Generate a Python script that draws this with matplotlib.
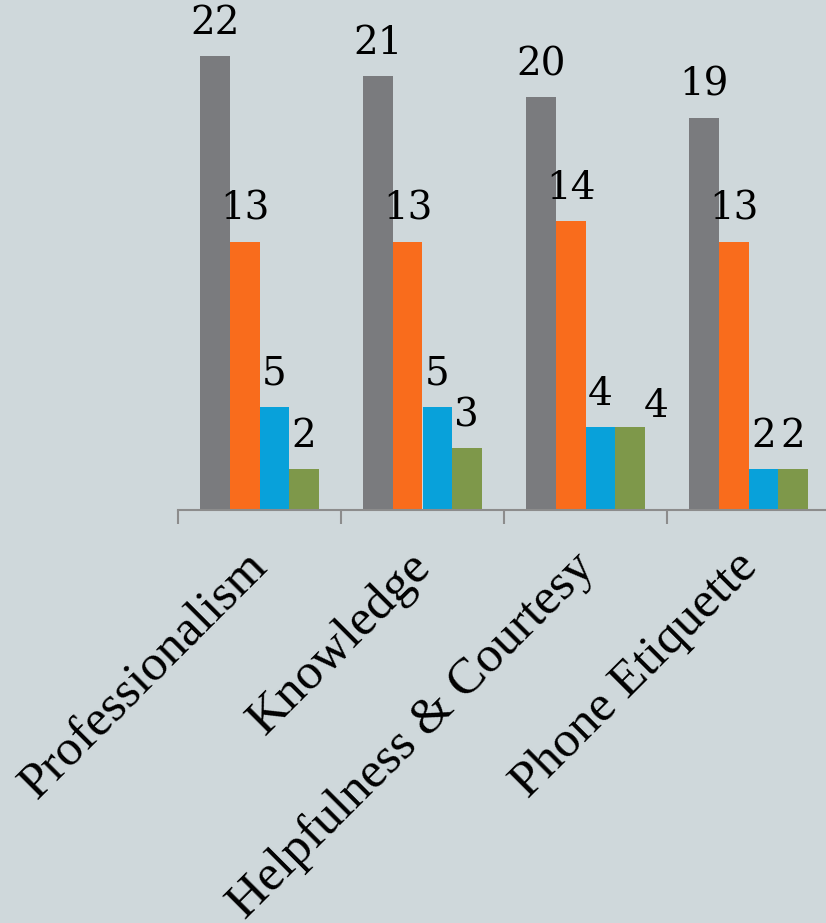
import numpy as np
import matplotlib.pyplot as plt
from matplotlib.transforms import ScaledTranslation

# survey scores per category, one series per rating level
categories = ["Professionalism", "Knowledge", "Helpfulness & Courtesy", "Phone Etiquette"]
series_a = [22, 21, 20, 19]
series_b = [13, 13, 14, 13]
series_c = [5, 5, 4, 2]
series_d = [2, 3, 4, 2]

colors = ["#7a7b7e", "#f96c1c", "#08a1da", "#7e984a"]
bg = "#cfd8db"

plt.rcParams['font.family'] = ['Liberation Serif', 'DejaVu Serif']

fig = plt.figure(figsize=(8.26, 9.23), dpi=100, facecolor=bg)
ax = fig.add_axes([178/826, 413/923, 652/826, 510/923])
ax.set_facecolor(bg)

x = np.arange(len(categories))
w = 0.181
all_series = [series_a, series_b, series_c, series_d]
for j, vals in enumerate(all_series):
    pos = x + (j - 1.5) * w
    ax.bar(pos, vals, width=w, color=colors[j], edgecolor='none', zorder=2)
    for k, (p, v) in enumerate(zip(pos, vals)):
        dx, dy = 0, 14
        # this one sits a little off to the side
        if j == 3 and k == 2:
            dx, dy = 26, 2
        ax.annotate(str(v), xy=(p, v), xytext=(dx, dy), textcoords='offset pixels',
                    ha='center', va='bottom', fontsize=28, color='black',
                    family='DejaVu Serif')

ax.set_xlim(-0.5, 3.5)
ax.set_ylim(0, 24.7)
ax.set_yticks([])
for s in ['top', 'right', 'left']:
    ax.spines[s].set_visible(False)
ax.spines['bottom'].set_color('#8c8c8c')
ax.spines['bottom'].set_linewidth(1.5)

ax.set_xticks(np.arange(-0.5, 4.0, 1.0), minor=False)
ax.set_xticklabels([])
ax.tick_params(axis='x', which='major', length=10, width=1.5, color='#8c8c8c')
ax.set_xticks(x, minor=True)
ax.set_xticklabels(categories, minor=True, rotation=45, ha='right',
                   rotation_mode='anchor', fontsize=37)
ax.tick_params(axis='x', which='minor', length=0, pad=12)
shift = ScaledTranslation(-15/100, -17/100, fig.dpi_scale_trans)
for lbl in ax.get_xticklabels(minor=True):
    lbl.set_transform(lbl.get_transform() + shift)

fig.savefig("out.png", dpi=100, facecolor=bg)
